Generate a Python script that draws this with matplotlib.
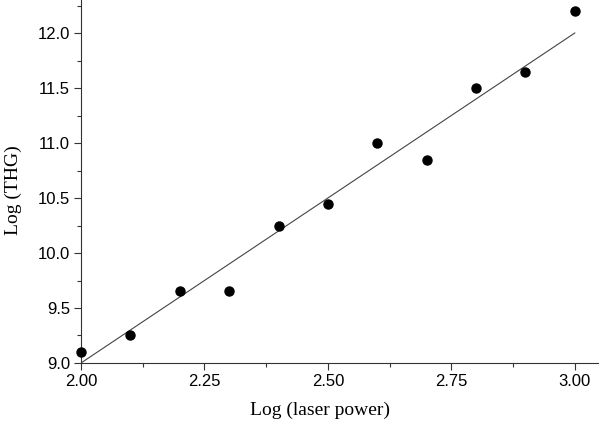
import matplotlib
matplotlib.use("Agg")
import matplotlib.pyplot as plt
import numpy as np
from matplotlib.ticker import MultipleLocator, FormatStrFormatter

log_power = [2.0, 2.1, 2.2, 2.3, 2.4, 2.5, 2.6, 2.7, 2.8, 2.9, 3.0]
log_thg = [9.1, 9.25, 9.65, 9.65, 10.25, 10.45, 11.0, 10.85, 11.5, 11.65, 12.2]
fit_slope = 3.0
fit_intercept = 3.0
fit_x = [2.0, 3.0]

fig = plt.figure(figsize=(6, 4.32), dpi=100)
ax = fig.add_axes([81/600, 69/432, 517/600, 363/432])

fx = np.array(fit_x)
ax.plot(fx, fit_slope*fx + fit_intercept, color="#444444", lw=0.8, zorder=2)
ax.plot(log_power, log_thg, "o", color="black", ms=6.5, zorder=3, clip_on=False)

ax.set_xlim(2.0, 3.047)
ax.set_ylim(9.0, 12.3)
for s in ["top", "right"]:
    ax.spines[s].set_visible(False)
for s in ["left", "bottom"]:
    ax.spines[s].set_linewidth(0.8)
    ax.spines[s].set_color("#333333")

ax.xaxis.set_major_locator(MultipleLocator(0.25))
ax.xaxis.set_minor_locator(MultipleLocator(0.125))
ax.yaxis.set_major_locator(MultipleLocator(0.5))
ax.yaxis.set_minor_locator(MultipleLocator(0.25))
ax.xaxis.set_major_formatter(FormatStrFormatter("%.2f"))
ax.yaxis.set_major_formatter(FormatStrFormatter("%.1f"))
ax.tick_params(which="major", direction="out", length=5, width=0.8, color="#333333",
               labelsize=12, pad=3)
ax.tick_params(which="minor", direction="out", length=3, width=0.8, color="#333333")
for lab in ax.get_xticklabels() + ax.get_yticklabels():
    lab.set_fontfamily("Liberation Sans")

ax.set_xlabel("Log (laser power)", fontfamily="Liberation Serif", fontsize=14)
ax.set_ylabel("Log (THG)", fontfamily="Liberation Serif", fontsize=14)
# label centres in figure pixels: x-label (320, 410), y-label (13, 190)
ax.xaxis.set_label_coords((320-81)/517, (363-410)/363)
ax.xaxis.label.set_va("center")
ax.yaxis.set_label_coords((13-81)/517, (363-190)/363)
ax.yaxis.label.set_va("center")

fig.savefig("out.png", dpi=100)
